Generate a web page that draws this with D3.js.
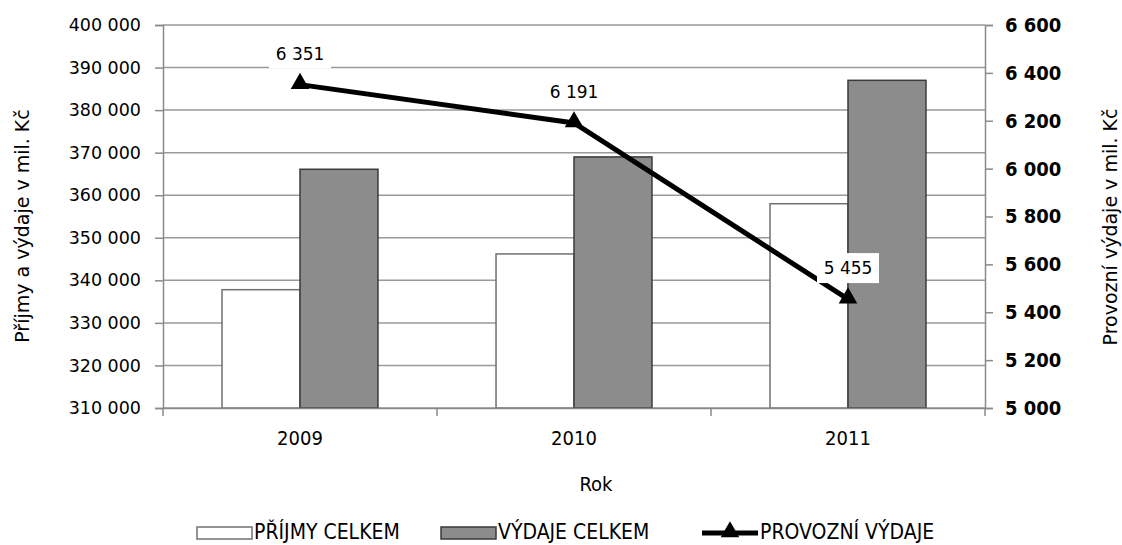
<!DOCTYPE html>
<html>
<head>
<meta charset="utf-8">
<script src="https://cdn.jsdelivr.net/npm/d3@7"></script>
<style>
  body { margin: 0; background: #fff; }
  text { font-family: "DejaVu Sans", Verdana, sans-serif; fill: #000; }
  .cond { font-family: "DejaVu Sans Condensed", "DejaVu Sans", sans-serif; font-stretch: condensed; }
</style>
</head>
<body>
<div id="chart"></div>
<script>
const years = ["2009", "2010", "2011"];
const prijmy = [337800, 346200, 358000];
const vydaje = [366100, 369000, 387000];
const provozni = [6351, 6191, 5455];
const leftTicks = [310000, 320000, 330000, 340000, 350000, 360000, 370000, 380000, 390000, 400000];
const rightTicks = [5000, 5200, 5400, 5600, 5800, 6000, 6200, 6400, 6600];
const seriesNames = ["PŘÍJMY CELKEM", "VÝDAJE CELKEM", "PROVOZNÍ VÝDAJE"];

const margin = { top: 25, right: 137, bottom: 137, left: 163 },
      width = 1122 - margin.left - margin.right,
      height = 545 - margin.top - margin.bottom;

const cz = d3.formatLocale({ decimal: ",", thousands: "\u00a0", grouping: [3], currency: ["", " Kč"] });
const fmt = cz.format(",d");

const svg = d3.select("#chart")
  .append("svg")
  .attr("width", 1122)
  .attr("height", 545)
  .append("g")
  .attr("transform", `translate(${margin.left},${margin.top})`);

const x = d3.scaleBand().domain(years).range([0, width]).padding(0);
const x1 = d3.scaleBand().domain(["p", "v"]).range([0, x.bandwidth()]).paddingInner(0).paddingOuter(0.757);
const y = d3.scaleLinear().domain([310000, 400000]).range([height, 0]);
const y2 = d3.scaleLinear().domain([5000, 6600]).range([height, 0]);

// gridlines
svg.append("g")
  .selectAll("line")
  .data(leftTicks)
  .join("line")
  .attr("x1", 0).attr("x2", width)
  .attr("y1", d => y(d)).attr("y2", d => y(d))
  .attr("stroke", "#9a9a9a")
  .attr("stroke-width", 1.5);

// left axis
const gl = svg.append("g")
  .call(d3.axisLeft(y).tickValues(leftTicks).tickFormat(fmt).tickSize(8).tickPadding(14));
gl.selectAll("text").style("font-size", "17.5px");
gl.selectAll("line, path").attr("stroke", "#8a8a8a").attr("stroke-width", 1.5);

// right axis
const gr = svg.append("g")
  .attr("transform", `translate(${width},0)`)
  .call(d3.axisRight(y2).tickValues(rightTicks).tickFormat(fmt).tickSize(8).tickPadding(12));
gr.selectAll("text").attr("class", "cond").style("font-size", "20px").style("font-weight", "bold");
gr.selectAll("line, path").attr("stroke", "#8a8a8a").attr("stroke-width", 1.5);

// bars
const rows = years.map((yr, i) => ({ year: yr, p: prijmy[i], v: vydaje[i] }));
const groups = svg.selectAll("g.grp")
  .data(rows)
  .join("g")
  .attr("class", "grp")
  .attr("transform", d => `translate(${x(d.year)},0)`);

groups.append("rect")
  .attr("x", x1("p"))
  .attr("y", d => y(d.p))
  .attr("width", x1.bandwidth())
  .attr("height", d => height - y(d.p))
  .attr("fill", "#ffffff")
  .attr("stroke", "#707070")
  .attr("stroke-width", 1.5);

groups.append("rect")
  .attr("x", x1("v"))
  .attr("y", d => y(d.v))
  .attr("width", x1.bandwidth())
  .attr("height", d => height - y(d.v))
  .attr("fill", "#8c8c8c")
  .attr("stroke", "#3a3a3a")
  .attr("stroke-width", 1.5);

// x axis
const gx = svg.append("g")
  .attr("transform", `translate(0,${height})`)
  .call(d3.axisBottom(x).tickSize(0).tickPadding(23));
gx.select("path").attr("stroke", "#8a8a8a").attr("stroke-width", 1.5);
gx.selectAll("text").attr("class", "cond").style("font-size", "20px");

svg.append("g")
  .selectAll("line")
  .data([0].concat(years.map(c => x(c) + x.bandwidth())))
  .join("line")
  .attr("x1", d => d).attr("x2", d => d)
  .attr("y1", height).attr("y2", height + 8)
  .attr("stroke", "#8a8a8a")
  .attr("stroke-width", 1.5);

// line series
const pts = years.map((yr, i) => ({ year: yr, v: provozni[i] }));
const cx = d => x(d.year) + x.bandwidth() / 2;

svg.append("path")
  .datum(pts)
  .attr("fill", "none")
  .attr("stroke", "#000")
  .attr("stroke-width", 5)
  .attr("d", d3.line().x(cx).y(d => y2(d.v)));

const tri = d3.symbol().type(d3.symbolTriangle).size(150);
svg.selectAll("path.mk")
  .data(pts)
  .join("path")
  .attr("class", "mk")
  .attr("d", tri)
  .attr("transform", d => `translate(${cx(d)},${y2(d.v) - 1})`)
  .attr("fill", "#000");

// data labels
const lab = svg.selectAll("g.lab")
  .data(pts)
  .join("g")
  .attr("class", "lab")
  .attr("transform", d => `translate(${cx(d)},${y2(d.v) - 31})`);

lab.append("rect")
  .attr("x", -31).attr("y", -15)
  .attr("width", 62).attr("height", 30)
  .attr("fill", "#fff");

lab.append("text")
  .attr("text-anchor", "middle")
  .attr("dy", "0.35em")
  .style("font-size", "17px")
  .text(d => fmt(d.v));

// axis titles
svg.append("text")
  .attr("transform", "rotate(-90)")
  .attr("x", -201)
  .attr("y", -134)
  .style("text-anchor", "middle")
  .style("font-size", "19px")
  .text("Příjmy a výdaje v mil. Kč");

svg.append("text")
  .attr("transform", "rotate(-90)")
  .attr("x", -202)
  .attr("y", width + 132)
  .style("text-anchor", "middle")
  .style("font-size", "19px")
  .text("Provozní výdaje v mil. Kč");

svg.append("text")
  .attr("class", "cond")
  .attr("x", width / 2 + 22)
  .attr("y", height + 83)
  .style("text-anchor", "middle")
  .style("font-size", "20px")
  .text("Rok");

// legend
const legendX = [34, 278, 539];
const legend = svg.selectAll(".legend")
  .data(seriesNames)
  .join("g")
  .attr("class", "legend")
  .attr("transform", (d, i) => `translate(${legendX[i]},${height + 131})`);

legend.filter((d, i) => i < 2).append("rect")
  .attr("x", 0).attr("y", -12)
  .attr("width", 55).attr("height", 12)
  .attr("fill", (d, i) => i === 0 ? "#fff" : "#8c8c8c")
  .attr("stroke", (d, i) => i === 0 ? "#707070" : "#3a3a3a")
  .attr("stroke-width", 1.5);

legend.filter((d, i) => i === 2).append("line")
  .attr("x1", 0).attr("x2", 56)
  .attr("y1", -6).attr("y2", -6)
  .attr("stroke", "#000").attr("stroke-width", 5);

legend.filter((d, i) => i === 2).append("path")
  .attr("d", tri)
  .attr("transform", "translate(28,-7)")
  .attr("fill", "#000");

legend.append("text")
  .attr("class", "cond")
  .attr("x", (d, i) => i === 2 ? 58 : 57)
  .attr("y", 0)
  .style("font-size", "21px")
  .text(d => d);
</script>
</body>
</html>
